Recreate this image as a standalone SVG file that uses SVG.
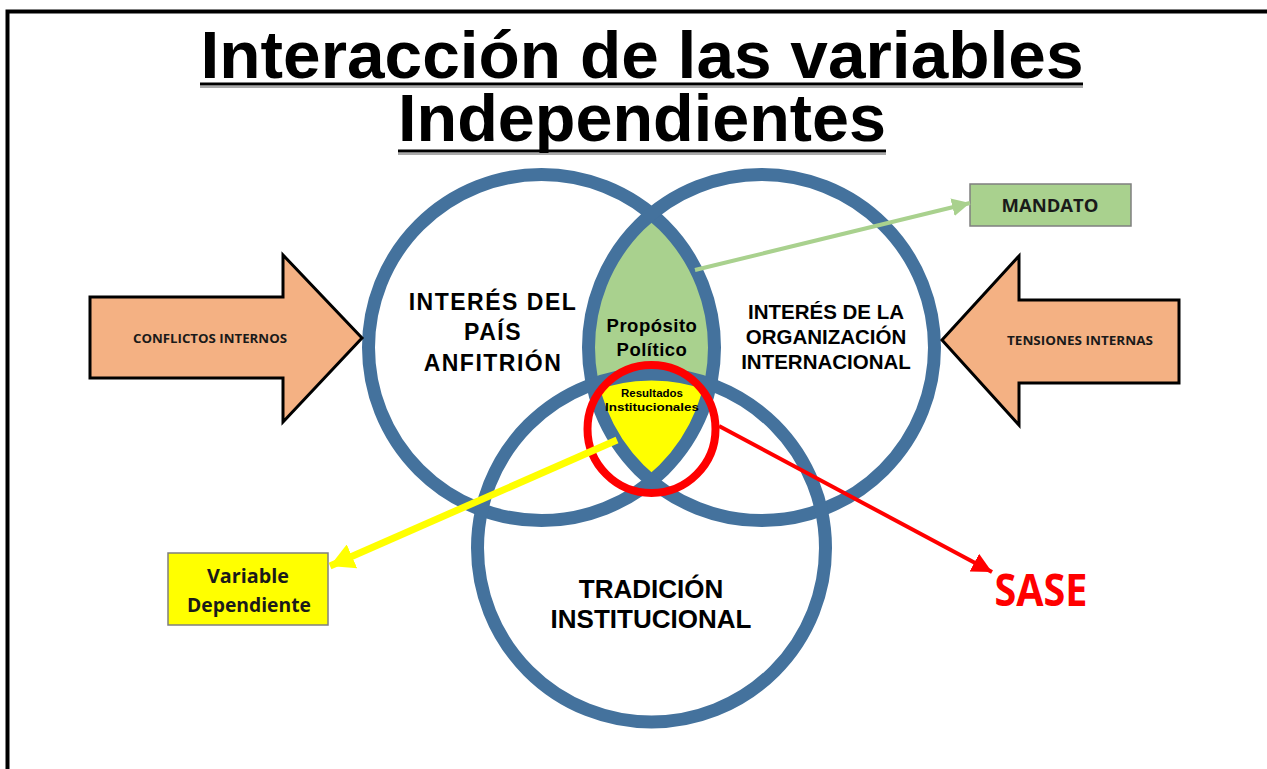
<svg xmlns="http://www.w3.org/2000/svg" width="1267" height="769" viewBox="0 0 1267 769">
<style>
.title{font-family:"Liberation Sans",Arial,sans-serif;font-weight:bold;font-size:67px;fill:#000;text-anchor:middle}
.lbl{font-family:"Liberation Sans",Arial,sans-serif;font-weight:bold;fill:#000;text-anchor:middle}
.cal{font-family:"Open Sans","Liberation Sans",sans-serif;font-weight:bold;fill:#1a1a1a;text-anchor:middle}
.ring{fill:none;stroke:#44729D;stroke-width:13}
.arrowshape{fill:#F4B183;stroke:#000;stroke-width:3;stroke-linejoin:miter}
.box{stroke:#7f7f7f;stroke-width:1.5}
</style>
<defs>
<clipPath id="cL"><circle cx="541.5" cy="347.5" r="173"/></clipPath>
<clipPath id="cR"><circle cx="761.5" cy="347.5" r="173"/></clipPath>
<marker id="mG" markerUnits="userSpaceOnUse" markerWidth="20" markerHeight="18" refX="18" refY="9" orient="auto"><path d="M0,0 L18,9 L0,18 Z" fill="#A9D18E"/></marker>
<marker id="mY" markerUnits="userSpaceOnUse" markerWidth="26" markerHeight="26" refX="24" refY="13" orient="auto"><path d="M0,0 L24,13 L0,26 Z" fill="#FFFF00"/></marker>
<marker id="mR" markerUnits="userSpaceOnUse" markerWidth="22" markerHeight="20" refX="20" refY="10" orient="auto"><path d="M0,0 L20,10 L0,20 Z" fill="#FF0000"/></marker>
</defs>
<rect width="1267" height="769" fill="#fff"/>
<path d="M7.5,769 V11.5 H1267" fill="none" stroke="#000" stroke-width="4"/>

<g id="title">
<text class="title" x="642" y="78" textLength="883" lengthAdjust="spacingAndGlyphs">Interacción de las variables</text>
<line x1="200" y1="87" x2="1083" y2="87" stroke="#aaa" stroke-width="2"/>
<line x1="200" y1="84" x2="1083" y2="84" stroke="#000" stroke-width="3"/>
<text class="title" x="642" y="141" textLength="488" lengthAdjust="spacingAndGlyphs">Independientes</text>
<line x1="398" y1="154" x2="886" y2="154" stroke="#aaa" stroke-width="2"/>
<line x1="398" y1="151" x2="886" y2="151" stroke="#000" stroke-width="3"/>
</g>

<g id="lens-fills">
<circle cx="761.5" cy="347.5" r="173" fill="#A9D18E" clip-path="url(#cL)"/>
<g clip-path="url(#cL)"><circle cx="651.5" cy="548" r="174" fill="#FFFF00" clip-path="url(#cR)"/></g>
</g>

<g id="circle-pais"><circle class="ring" cx="541.5" cy="347.5" r="173"/></g>
<g id="circle-org"><circle class="ring" cx="761.5" cy="347.5" r="173"/></g>
<g id="circle-tradicion"><circle class="ring" cx="651.5" cy="548" r="174"/></g>

<g id="txt-pais">
<text class="lbl" x="493" y="310" font-size="23" letter-spacing="1.5">INTERÉS DEL</text>
<text class="lbl" x="493" y="340" font-size="23" letter-spacing="1.5">PAÍS</text>
<text class="lbl" x="493" y="371" font-size="23" letter-spacing="1.5">ANFITRIÓN</text>
</g>
<g id="txt-org">
<text class="lbl" x="826" y="319" font-size="20.5">INTERÉS DE LA</text>
<text class="lbl" x="826" y="344" font-size="20.5">ORGANIZACIÓN</text>
<text class="lbl" x="826" y="369" font-size="20.5">INTERNACIONAL</text>
</g>
<g id="txt-tradicion">
<text class="lbl" x="651" y="598" font-size="26">TRADICIÓN</text>
<text class="lbl" x="651" y="628" font-size="26">INSTITUCIONAL</text>
</g>
<g id="proposito">
<text class="lbl" x="652" y="332" font-size="18.5" letter-spacing="0.5">Propósito</text>
<text class="lbl" x="652" y="356" font-size="18.5" letter-spacing="0.5">Político</text>
</g>
<g id="resultados">
<text class="lbl" x="652" y="397" font-size="11.5">Resultados</text>
<text class="lbl" x="652" y="411" font-size="11.5" textLength="94" lengthAdjust="spacingAndGlyphs">Institucionales</text>
</g>

<g id="red-circle"><circle cx="651.5" cy="429" r="64" fill="none" stroke="#FF0000" stroke-width="8"/></g>

<g id="conflictos">
<path class="arrowshape" d="M90,297 H283 V255 L362,338 L283,422 V378 H90 Z"/>
<text class="cal" x="210" y="343" font-size="12.5" textLength="154" lengthAdjust="spacingAndGlyphs">CONFLICTOS INTERNOS</text>
</g>
<g id="tensiones">
<path class="arrowshape" d="M1179,300 H1019 V256 L942,340 L1019,425 V383 H1179 Z"/>
<text class="cal" x="1080" y="345" font-size="12.5" textLength="146" lengthAdjust="spacingAndGlyphs">TENSIONES INTERNAS</text>
</g>

<g id="mandato">
<rect class="box" x="970" y="184" width="161" height="42" fill="#A9D18E"/>
<text class="cal" x="1050" y="212" font-size="18" textLength="97" lengthAdjust="spacingAndGlyphs">MANDATO</text>
</g>
<g id="variable-dependiente">
<rect class="box" x="168" y="553" width="160" height="72" fill="#FFFF00"/>
<text class="cal" x="248" y="583" font-size="19" textLength="82" lengthAdjust="spacingAndGlyphs">Variable</text>
<text class="cal" x="249" y="612" font-size="19" textLength="124" lengthAdjust="spacingAndGlyphs">Dependiente</text>
</g>
<g id="sase">
<text x="1041" y="606" font-family="'Open Sans','Liberation Sans',sans-serif" font-weight="bold" font-size="44" fill="#FF0000" text-anchor="middle" textLength="93" lengthAdjust="spacingAndGlyphs">SASE</text>
</g>

<g id="connectors" fill="none">
<line x1="695" y1="270" x2="970" y2="203" stroke="#A9D18E" stroke-width="4" marker-end="url(#mG)"/>
<line x1="617" y1="440" x2="330" y2="566" stroke="#FFFF00" stroke-width="7" marker-end="url(#mY)"/>
<line x1="719" y1="426" x2="992" y2="572" stroke="#FF0000" stroke-width="4" marker-end="url(#mR)"/>
</g>
</svg>
